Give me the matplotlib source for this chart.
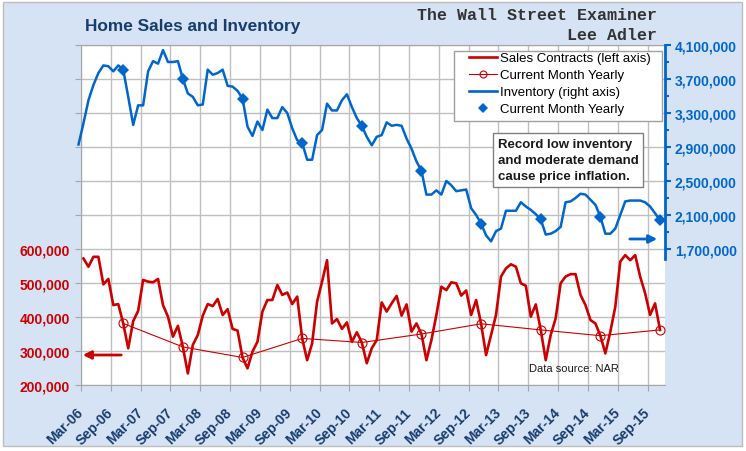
import numpy as np
import matplotlib
matplotlib.use("Agg")
import matplotlib.pyplot as plt
from matplotlib.patches import Rectangle
from matplotlib.lines import Line2D
from matplotlib.ticker import FuncFormatter

plt.rcParams['font.family'] = ['Liberation Sans', 'DejaVu Sans']

# pending home sales contracts, monthly Mar-06 .. Nov-15 (thousands)
sales = [572, 548, 577, 577, 496, 512, 435, 438, 381, 308, 388, 418,
         509, 504, 502, 512, 435, 401, 342, 374, 312, 234, 318, 347,
         404, 438, 432, 453, 406, 423, 365, 360, 281, 249, 298, 327,
         416, 450, 450, 494, 465, 472, 438, 460, 337, 273, 322, 445,
         504, 567, 381, 394, 365, 384, 327, 355, 325, 264, 308, 332,
         443, 416, 440, 462, 404, 437, 357, 381, 350, 273, 332, 406,
         489, 479, 502, 499, 463, 478, 406, 450, 380, 288, 347, 406,
         519, 543, 555, 548, 499, 492, 401, 437, 362, 273, 347, 396,
         499, 519, 526, 526, 465, 435, 391, 381, 345, 293, 357, 430,
         563, 582, 567, 582, 519, 470, 406, 440, 362]

# inventory, monthly Feb-06 .. Nov-15 (thousands)
inventory = [2930,
             3180, 3450, 3630, 3770, 3860, 3850, 3790, 3860, 3810, 3490, 3160, 3390,
             3390, 3790, 3910, 3880, 4040, 3900, 3900, 3910, 3700, 3530, 3490, 3390,
             3400, 3810, 3750, 3770, 3810, 3620, 3610, 3560, 3470, 3140, 3030, 3200,
             3100, 3340, 3240, 3240, 3370, 3300, 3120, 2980, 2950, 2750, 2750, 3040,
             3100, 3410, 3330, 3330, 3450, 3520, 3370, 3240, 3150, 3020, 2920, 3020,
             3040, 3190, 3150, 3160, 3150, 3000, 2880, 2730, 2620, 2340, 2340, 2390,
             2340, 2500, 2450, 2380, 2390, 2400, 2180, 2100, 2000, 1860, 1790, 1910,
             1940, 2150, 2150, 2150, 2250, 2200, 2160, 2110, 2050, 1870, 1880, 1910,
             1960, 2250, 2260, 2300, 2350, 2340, 2280, 2220, 2080, 1880, 1880, 1940,
             2100, 2260, 2270, 2270, 2270, 2250, 2200, 2120, 2040]

tick_labels = ['Mar-06', 'Sep-06', 'Mar-07', 'Sep-07', 'Mar-08', 'Sep-08',
               'Mar-09', 'Sep-09', 'Mar-10', 'Sep-10', 'Mar-11', 'Sep-11',
               'Mar-12', 'Sep-12', 'Mar-13', 'Sep-13', 'Mar-14', 'Sep-14',
               'Mar-15', 'Sep-15']

RED = '#CC0000'
BLUE = '#0066CC'
NAVY = '#173D6E'
W, H = 746, 452


def fx(p):
    return p / W


def fy(p):
    return 1 - p / H


sales = np.array(sales) * 1000
inventory = np.array(inventory) * 1000
# x = months since Mar-06, points sit mid-month
x_sales = np.arange(len(sales)) + 0.5
x_inv = np.arange(-1, len(inventory) - 1) + 0.5

fig = plt.figure(figsize=(W / 100, H / 100), dpi=100)
fig.patch.set_facecolor('white')
fig.add_artist(Rectangle((fx(3), fy(447)), fx(739), 444 / H, transform=fig.transFigure,
                         fc='#D6E3F5', ec='#BDBDBD', lw=1, zorder=-10))

ax = fig.add_axes([fx(81), fy(386), fx(665 - 81), (386 - 46) / H])
ax2 = ax.twinx()
ax.set_facecolor('white')

# sales on left axis
ax.plot(x_sales, sales, color=RED, lw=1.9, zorder=3)
ax.plot(x_sales[8::12], sales[8::12], color=RED, lw=0.8, marker='o', ms=6.5,
        mfc='none', mec=RED, mew=0.8, zorder=3)

# inventory on right axis
ax2.plot(x_inv, inventory, color=BLUE, lw=1.8, clip_on=False)
ax2.plot(x_inv[9::12], inventory[9::12], ls='none', marker='D', ms=6.5,
         color=BLUE, mew=0)

ax.set_xlim(0, 117.5)
ax.set_ylim(200000, 1200000)
ax2.set_ylim(100000, 4100000)

ax.set_xticks(np.arange(0, 6 * len(tick_labels), 6))
ax.set_xticklabels(tick_labels)
ax.set_yticks(np.arange(200000, 1200001, 100000))
ax.yaxis.set_major_formatter(FuncFormatter(lambda v, p: f'{v:,.0f}' if v <= 600000 else ''))
ax.grid(True, color='#BFBFBF', lw=1)
ax.set_axisbelow(True)

ax.tick_params(axis='x', length=4, color='#A6A6A6', pad=14, labelsize=10,
               labelcolor=NAVY)
ax.tick_params(axis='y', length=4, color='#A6A6A6', pad=4, labelsize=10,
               labelcolor=RED)
for lbl in ax.get_xticklabels():
    lbl.set_rotation(45)
    lbl.set_ha('right')
    lbl.set_va('center')
    lbl.set_rotation_mode('anchor')
    lbl.set_fontweight('bold')
for lbl in ax.get_yticklabels():
    lbl.set_fontweight('bold')

for s in ['left', 'top', 'bottom']:
    ax.spines[s].set_color('#A6A6A6')
ax.spines['right'].set_visible(False)

ax2.set_yticks(np.arange(1700000, 4100001, 400000))
ax2.set_yticks(np.arange(1900000, 3900001, 400000), minor=True)
ax2.yaxis.set_major_formatter(FuncFormatter(lambda v, p: f'{v:,.0f}'))
ax2.tick_params(axis='y', which='major', length=4, width=1.5, color=BLUE, pad=3,
                labelsize=10, labelcolor=BLUE)
ax2.tick_params(axis='y', which='minor', length=3, width=1.5, color=BLUE)
for lbl in ax2.get_yticklabels():
    lbl.set_fontweight('bold')
for s in ['left', 'top', 'bottom']:
    ax2.spines[s].set_visible(False)
ax2.spines['right'].set_color(BLUE)
ax2.spines['right'].set_linewidth(2)
ax2.spines['right'].set_bounds(1580000, 4100000)

# legend frame drawn separately to get the wide left margin
ax2.add_patch(Rectangle((fx(454), fy(122)), fx(662 - 454), (122 - 52) / H,
                        transform=fig.transFigure, fc='white', ec='#A0A0A0', lw=1,
                        zorder=4, clip_on=False))
handles = [Line2D([], [], color=RED, lw=1.9),
           Line2D([], [], color=RED, lw=0.8, marker='o', ms=5, mfc='none', mew=0.8),
           Line2D([], [], color=BLUE, lw=1.9),
           Line2D([], [], ls='none', marker='D', ms=5.5, color=BLUE, mew=0)]
labels = ['Sales Contracts (left axis)', 'Current Month Yearly',
          'Inventory (right axis)', 'Current Month Yearly']
leg = ax2.legend(handles, labels, loc='upper left', bbox_to_anchor=(fx(469), fy(53)),
                 bbox_transform=fig.transFigure, fontsize=9.5, frameon=False,
                 handlelength=2.15, handletextpad=0.2, labelspacing=0.36,
                 borderpad=0, borderaxespad=0)

fig.text(fx(498), fy(139), 'Record low inventory\nand moderate demand\ncause price inflation.',
         ha='left', va='top', fontsize=9.5, fontweight='bold', color='#1A1A1A',
         linespacing=1.45,
         bbox=dict(boxstyle='square,pad=0.35', fc='white', ec='#808080', lw=1))

fig.text(fx(529), fy(369), 'Data source: NAR', ha='left', va='center', fontsize=8,
         color='#1A1A1A')

fig.text(fx(85), fy(27), 'Home Sales and Inventory', ha='left', va='center',
         fontsize=12.4, fontweight='bold', color=NAVY)
fig.text(fx(657), fy(15), 'The Wall Street Examiner', ha='right', va='center',
         fontsize=12, fontweight='bold', family='Liberation Mono', color='#333333')
fig.text(fx(657), fy(36), 'Lee Adler', ha='right', va='center',
         fontsize=12, fontweight='bold', family='Liberation Mono', color='#333333')

# arrows pointing to the matching axis
ax.annotate('', xy=(fx(80), fy(356)), xytext=(fx(124), fy(356)),
            xycoords='figure fraction', textcoords='figure fraction',
            arrowprops=dict(arrowstyle='-|>', color=RED, lw=2, mutation_scale=12),
            annotation_clip=False)
ax2.annotate('', xy=(fx(660), fy(240)), xytext=(fx(627), fy(240)),
             xycoords='figure fraction', textcoords='figure fraction',
             arrowprops=dict(arrowstyle='-|>', color=BLUE, lw=2, mutation_scale=12),
             annotation_clip=False)

fig.savefig('out.png', dpi=100)
